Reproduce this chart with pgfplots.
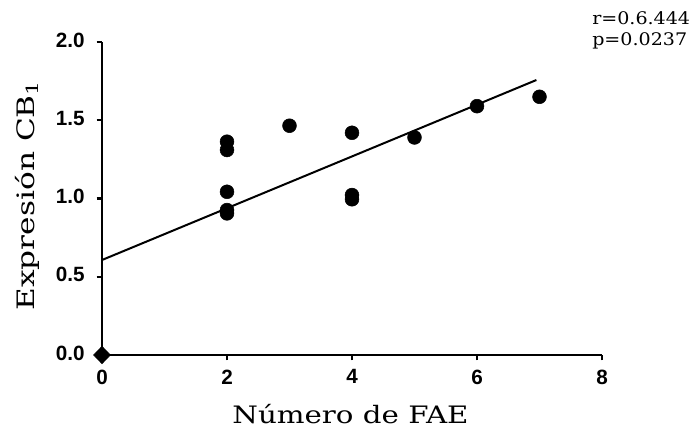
\documentclass[border=0pt]{standalone}
\usepackage{pgfplots}
\pgfplotsset{compat=1.18}
\usepackage{fontspec}
\setmainfont{DejaVu Serif}
\newfontfamily\tickfont{Liberation Sans}
\begin{document}
\begin{tikzpicture}
\begin{axis}[
  at={(0pt,0pt)}, anchor=south west,
  scale only axis, width=375pt, height=234.75pt,
  xmin=0, xmax=8, ymin=0, ymax=2,
  xtick={0,2,4,6,8}, ytick={0,0.5,1.0,1.5,2.0},
  axis x line=bottom, axis y line=left,
  axis line style={-, line width=1.7pt},
  tick style={line width=1.7pt, black},
  tick align=outside, major tick length=4pt,
  /pgf/number format/assume math mode=true,
  yticklabel style={/pgf/number format/fixed, /pgf/number format/fixed zerofill, /pgf/number format/precision=1, xshift=-5.5pt, yshift=1.5pt},
  ticklabel style={font=\tickfont\bfseries\fontsize{15.5}{17}\selectfont},
  xticklabel style={yshift=-3.5pt},
  xlabel={\scalebox{1.22}[1]{Número de FAE}},
  ylabel={\scalebox{1.3}[1]{Expresión CB\textsubscript{1}}},
  label style={font=\fontsize{18}{20}\selectfont},
  xlabel style={at={(axis description cs:0.497,-0.188)}, anchor=center},
  ylabel style={at={(axis description cs:-0.15,0.51)}, anchor=center},
  clip=false,
]
\addplot[only marks, mark=*, mark size=5.2pt, black] coordinates {
 (2,1.363) (2,1.31) (2,1.043) (2,0.926) (2,0.905)
 (3,1.465)
 (4,1.42) (4,1.022) (4,0.995)
 (5,1.39)
 (6,1.59)
 (7,1.65)
};
\addplot[no marks, line width=1.5pt, black] coordinates {(0,0.607) (6.95,1.757)};
\addplot[only marks, mark=diamond*, mark size=6.5pt, mark options={xscale=1.3}, black] coordinates {(0,0)};
\node[anchor=north west, align=left, inner sep=0pt, font=\fontsize{13}{15.5}\selectfont] at (rel axis cs:0.98,1.098) {\scalebox{1.1}[1]{r=0.6.444}\\\scalebox{1.1}[1]{p=0.0237}};
\end{axis}
\pgfresetboundingbox
\useasboundingbox (-76.5pt,-55.5pt) rectangle (446.25pt,266.25pt);
\end{tikzpicture}
\end{document}
